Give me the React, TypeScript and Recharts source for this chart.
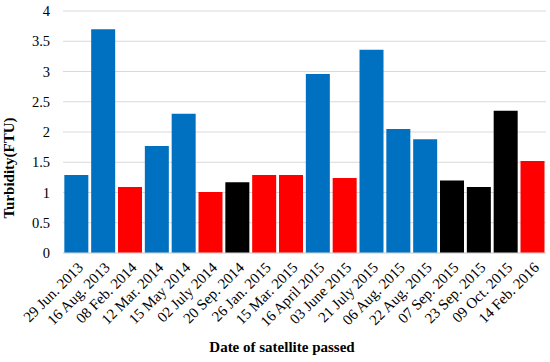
import React from "react";
import { BarChart, Bar, XAxis, YAxis, CartesianGrid, Cell } from "recharts";

const dates = [
  "29 Jun. 2013", "16 Aug. 2013", "08 Feb. 2014", "12 Mar. 2014", "15 May 2014",
  "02 July 2014", "20 Sep. 2014", "26 Jan. 2015", "15 Mar. 2015", "16 April 2015",
  "03 June 2015", "21 July 2015", "06 Aug. 2015", "22 Aug. 2015", "07 Sep. 2015",
  "23 Sep. 2015", "09 Oct. 2015", "14 Feb. 2016",
];
const turbidity = [
  1.29, 3.7, 1.09, 1.77, 2.3, 1.01, 1.17, 1.29, 1.29, 2.96,
  1.24, 3.36, 2.05, 1.88, 1.2, 1.09, 2.35, 1.52,
];
const groups = [
  "A", "A", "B", "A", "A", "B", "C", "B", "B", "A",
  "B", "A", "A", "A", "C", "C", "C", "B",
];
const yTicks = [0, 0.5, 1, 1.5, 2, 2.5, 3, 3.5, 4];

const groupColors: Record<string, string> = { A: "#0070C0", B: "#FF0000", C: "#000000" };

const data = dates.map((d, i) => ({ date: d, value: turbidity[i], group: groups[i] }));

const FONT = "Liberation Serif";

export default function App() {
  return (
    <div style={{ position: "absolute", left: 0, top: 0, width: 550, height: 362, background: "#fff", fontFamily: FONT }}>
      <BarChart
        width={550}
        height={362}
        data={data}
        margin={{ top: 11, right: 4, left: 0, bottom: 0 }}
        barCategoryGap="5%"
        style={{ fontFamily: FONT }}
      >
        <CartesianGrid vertical={false} stroke="#d9d9d9" />
        <XAxis
          dataKey="date"
          interval={0}
          axisLine={{ stroke: "#d9d9d9" }}
          tickLine={false}
          height={109}
          tick={{ angle: -45, textAnchor: "end", fontSize: 15, fill: "#000", style: { fontFamily: FONT } }}
          tickMargin={2}
          label={{
            content: () => (
              <text x={282} y={352} textAnchor="middle" style={{ fontFamily: FONT }} fontSize={15} fontWeight="bold" fill="#000">
                Date of satellite passed
              </text>
            ),
          }}
        />
        <YAxis
          domain={[0, 4]}
          ticks={yTicks}
          interval={0}
          axisLine={false}
          tickLine={false}
          width={63}
          tickMargin={7}
          tick={{ fontSize: 14.5, fill: "#000", style: { fontFamily: FONT } }}
          label={{
            content: () => (
              <text
                x={14}
                y={168}
                transform="rotate(-90, 14, 168)"
                textAnchor="middle"
                style={{ fontFamily: FONT }}
                fontSize={15}
                fontWeight="bold"
                fill="#000"
              >
                Turbidity(FTU)
              </text>
            ),
          }}
        />
        <Bar dataKey="value" isAnimationActive={false}>
          {data.map((d, i) => (
            <Cell key={i} fill={groupColors[d.group]} />
          ))}
        </Bar>
      </BarChart>
    </div>
  );
}
